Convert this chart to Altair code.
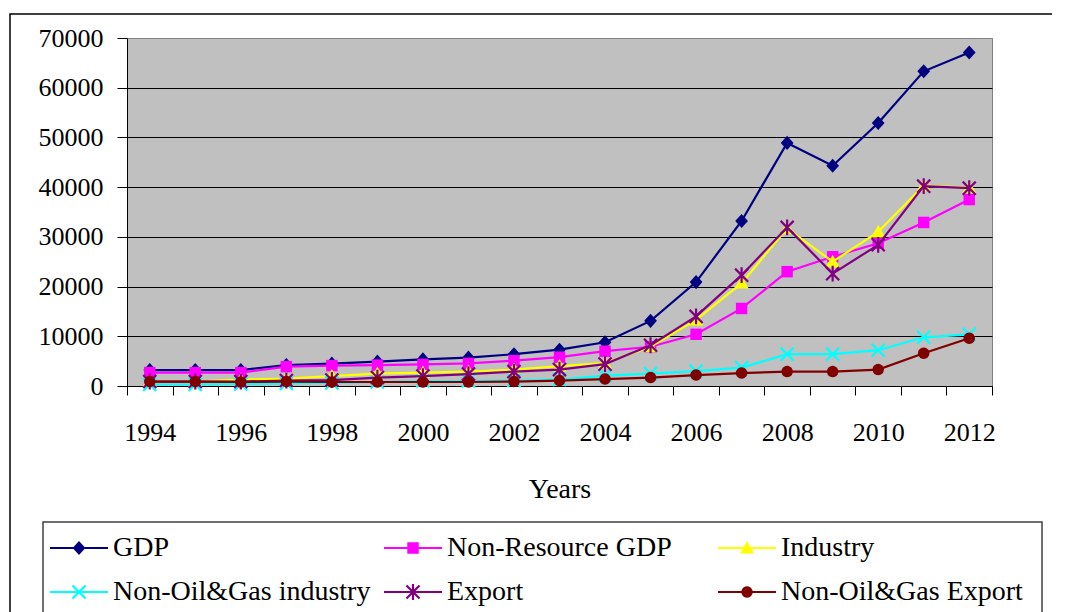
import math
import altair as alt
import pandas as pd

years = list(range(1994, 2013))
series = ["GDP", "Non-Resource GDP", "Industry", "Non-Oil&Gas industry", "Export", "Non-Oil&Gas Export"]
colors = ["#000080", "#FF00FF", "#FFFF00", "#00FFFF", "#800080", "#800000"]

gdp = [3200, 3200, 3200, 4200, 4500, 4900, 5350, 5700, 6400, 7300, 8800, 13100, 20900, 33200, 48900, 44300, 52900, 63300, 67100]
non_resource_gdp = [2700, 2700, 2700, 3900, 4100, 4200, 4350, 4550, 5100, 5800, 7000, 7900, 10400, 15600, 23000, 26000, 28700, 32900, 37500]
industry = [900, 900, 1300, 1500, 2000, 2500, 2700, 2900, 3300, 4000, 4600, 7900, 13300, 20700, 31700, 25000, 31000, 40300, 39900]
non_oil_gas_industry = [300, 300, 400, 500, 600, 800, 1000, 1000, 1100, 1300, 2100, 2500, 3000, 3700, 6400, 6400, 7200, 9800, 10400]
export = [900, 900, 900, 1100, 1200, 1700, 2000, 2400, 2900, 3300, 4400, 8200, 14000, 22300, 31900, 22600, 28400, 40200, 39800]
non_oil_gas_export = [900, 900, 800, 900, 800, 800, 800, 800, 900, 1100, 1400, 1700, 2200, 2600, 2900, 2900, 3300, 6600, 9600]

values = [gdp, non_resource_gdp, industry, non_oil_gas_industry, export, non_oil_gas_export]

rows = []
for name, vals in zip(series, values):
    for yr, v in zip(years, vals):
        rows.append({"Year": yr, "Series": name, "Value": v})
df = pd.DataFrame(rows)

FONT = "Liberation Serif"


def poly(pts):
    return "M" + "L".join(f"{x:.4f},{y:.4f}" for x, y in pts) + "Z"


def bar(cx, cy, ang_deg, length, thick):
    a = math.radians(ang_deg)
    ux, uy = math.cos(a), math.sin(a)
    nx, ny = -math.sin(a), math.cos(a)
    hl, ht = length / 2, thick / 2
    pts = [
        (cx - hl * ux - ht * nx, cy - hl * uy - ht * ny),
        (cx + hl * ux - ht * nx, cy + hl * uy - ht * ny),
        (cx + hl * ux + ht * nx, cy + hl * uy + ht * ny),
        (cx - hl * ux + ht * nx, cy - hl * uy + ht * ny),
    ]
    return poly(pts)


diamond = poly([(0, -0.32), (0.29, 0), (0, 0.32), (-0.29, 0)])
square = poly([(-0.26, -0.26), (0.26, -0.26), (0.26, 0.26), (-0.26, 0.26)])
triangle = poly([(0, -0.32), (0.32, 0.25), (-0.32, 0.25)])
xmark = bar(0, 0, 45, 0.84, 0.1) + bar(0, 0, -45, 0.84, 0.1)
asterisk = xmark + bar(0, 0, 90, 0.72, 0.1)
circle = poly([(0.26 * math.cos(2 * math.pi * k / 24), 0.26 * math.sin(2 * math.pi * k / 24)) for k in range(24)])
markers = [diamond, square, triangle, xmark, asterisk, circle]
line_bar = bar(0, 0, 0, 2.64, 0.1)
legend_shapes = [line_bar + m for m in markers]

# Vega fills legend columns first; reorder so entries read row by row
legend_order = [0, 3, 1, 4, 2, 5]
legend_domain = [series[i] for i in legend_order]
legend_colors = [colors[i] for i in legend_order]
legend_symbols = [legend_shapes[i] for i in legend_order]

x_axis = alt.Axis(
    values=[1993.5 + i for i in range(20)],
    labelExpr="(datum.value + 0.5) % 2 == 0 ? format(datum.value + 0.5, 'd') : ''",
    labelOffset=22.76,
    labelOverlap=False,
    labelFlush=False,
    grid=False,
    tickSize=9,
    tickColor="black",
    domainColor="black",
    labelPadding=24,
    labelFont=FONT,
    labelFontSize=26,
    labelColor="black",
    title="Years",
    titleFont=FONT,
    titleFontSize=28,
    titleFontWeight="normal",
    titleColor="black",
    titleX=432.5,
    titleY=103,
    titleAlign="center",
    titleBaseline="middle",
)
y_axis = alt.Axis(
    values=list(range(0, 70001, 10000)),
    format="d",
    tickSize=10,
    tickColor="black",
    domainColor="black",
    labelPadding=14,
    labelFont=FONT,
    labelFontSize=26,
    labelColor="black",
    grid=True,
    gridColor={"condition": {"test": "datum.value >= 70000", "value": "#808080"}, "value": "black"},
    gridWidth=1,
    title=None,
)

X = alt.X("Year:Q", scale=alt.Scale(domain=[1993.5, 2012.5], nice=False, zero=False), axis=x_axis)
Y = alt.Y("Value:Q", scale=alt.Scale(domain=[0, 70000], nice=False), axis=y_axis)

layers = []
for name, col, mk in zip(series, colors, markers):
    base = alt.Chart(df).transform_filter(alt.datum.Series == name)
    layers.append(base.mark_line(color=col, strokeWidth=2.2).encode(x=X, y=Y))
    layers.append(base.mark_point(filled=True, shape=mk, size=1936, color=col, opacity=1, strokeWidth=0).encode(x=X, y=Y))

leg = alt.Legend(
    title=None,
    orient="none",
    legendX=-70,
    legendY=488,
    columns=3,
    gridAlign="all",
    columnPadding=12,
    rowPadding=8,
    symbolSize=1936,
    symbolOpacity=1,
    symbolStrokeWidth=0,
    labelFont=FONT,
    labelFontSize=28,
    labelOffset=12,
    labelLimit=500,
    labelColor="black",
    padding=0,
)
legend_layer = alt.Chart(df).mark_point(filled=True, opacity=0).encode(
    x=X,
    y=Y,
    color=alt.Color("Series:N", scale=alt.Scale(domain=legend_domain, range=legend_colors), legend=leg),
    shape=alt.Shape("Series:N", scale=alt.Scale(domain=legend_domain, range=legend_symbols), legend=leg),
)

one = pd.DataFrame({"a": [0]})
frame = alt.Chart(one).mark_rect(filled=False, color="black", strokeWidth=1.5).encode(
    x=alt.value(-117), x2=alt.value(931), y=alt.value(-24), y2=alt.value(620)
)
legend_box = alt.Chart(one).mark_rect(filled=False, color="#404040", strokeWidth=1.5).encode(
    x=alt.value(-84), x2=alt.value(915), y=alt.value(484), y2=alt.value(620)
)

chart = alt.layer(*layers, legend_layer, frame, legend_box).properties(
    width=865,
    height=348,
    autosize=alt.AutoSizeParams(type="none"),
    padding={"left": 119, "top": 30, "right": 60, "bottom": 226},
    background="white",
).configure_view(fill="#C0C0C0", stroke="#808080", strokeWidth=1)

chart.save("out.html", embed_options={"renderer": "svg", "actions": False})
